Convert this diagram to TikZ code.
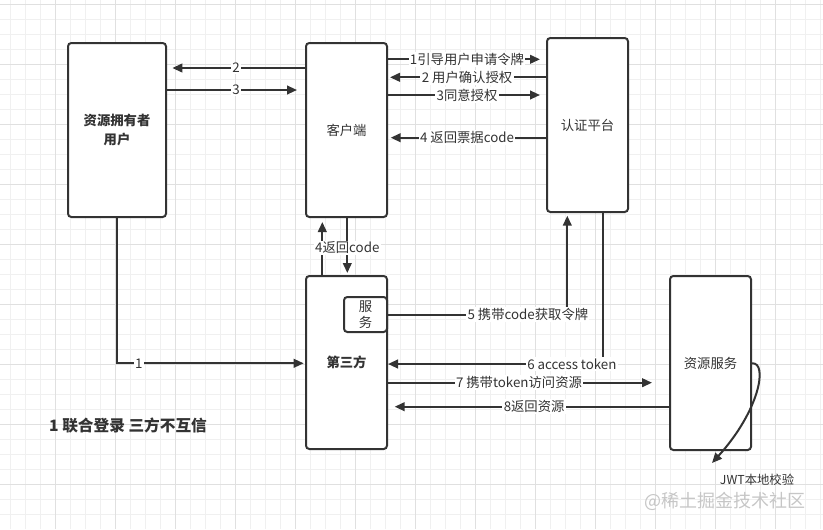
\documentclass[tikz,border=0pt]{standalone}
\usepackage{fontspec}
\setmainfont{Noto Sans CJK SC}
\usetikzlibrary{arrows.meta,positioning}
\definecolor{inkc}{HTML}{333333}
\definecolor{gridminor}{HTML}{F0F0F0}
\definecolor{gridmajor}{HTML}{E0E0E0}

\begin{document}
\begin{tikzpicture}[
    x=0.75pt, y=-0.75pt,
    block/.style={draw=inkc, fill=white, rounded corners=2.5pt, line width=1.5pt, align=center, text=inkc, font=\fontsize{10}{14.5}\selectfont, minimum width=60.75pt, minimum height=130.5pt, inner sep=0pt},
    arrow/.style={-{Triangle[length=7.5pt,width=6.5pt]}, line width=1.5pt, draw=inkc},
    lbl/.style={fill=white, inner sep=1pt, text=inkc, font=\fontsize{10}{11.5}\selectfont},
]
    \useasboundingbox (0,0) rectangle (823,529);
    \foreach \x in {10.7,25.7,...,823} \draw[gridminor, line width=0.75pt] (\x,0) -- (\x,529);
    \foreach \y in {4.3,19.3,...,529} \draw[gridminor, line width=0.75pt] (0,\y) -- (823,\y);
    \foreach \x in {55.7,115.7,...,823} \draw[gridmajor, line width=0.75pt] (\x,0) -- (\x,529);
    \foreach \y in {4.3,64.3,...,529} \draw[gridmajor, line width=0.75pt] (0,\y) -- (823,\y);

    \node[block, minimum width=73.5pt, font=\fontsize{10}{14.5}\selectfont\bfseries] (owner) at (117,130) {资源拥有者\\用户};
    \node[block] (client) at (346.5,130) {客户端};
    \node[block] (auth) at (587.5,125) {认证平台};
    \node[block, minimum height=129.75pt, font=\fontsize{10}{14.5}\selectfont\bfseries] (third) at (346.5,362.5) {第三方};
    \node[block, minimum width=32.25pt, minimum height=26.25pt, font=\fontsize{10}{11.5}\selectfont] (svc) at (365.5,314.5) {服\\务};
    \node[block] (resource) at (710.5,363) {资源服务};

    \draw[arrow, shorten >=4pt] (client.west |- 0,68) -- node[lbl] (t2) {2} (owner.east |- 0,68);
    \draw[arrow, shorten >=6pt] (owner.east |- 0,90) -- node[lbl] (t3) {3} (client.west |- 0,90);
    \draw[arrow, shorten >=4.5pt] (client.east |- 0,59.3) -- node[lbl] (a1) {1引导用户申请令牌} (auth.west |- 0,59.3);
    \draw[arrow, shorten >=1.5pt] (auth.west |- 0,77.3) -- node[lbl] (a2) {2 用户确认授权} (client.east |- 0,77.3);
    \draw[arrow, shorten >=4.5pt] (client.east |- 0,95) -- node[lbl] (a3) {3同意授权} (auth.west |- 0,95);
    \draw[arrow, shorten >=2pt] (auth.west |- 0,137.7) -- node[lbl] (a4) {4 返回票据code} (client.east |- 0,137.7);

    \draw[arrow, shorten >=3pt] (third.north -| 322.3,0) -- (client.south -| 322.3,0);
    \draw[arrow, shorten >=1.5pt] (client.south -| 347.3,0) -- (third.north -| 347.3,0);
    \node[lbl] (c4) at (347.3,248) {4返回code};

    \draw[arrow, shorten >=2pt] (svc.east) -| node[lbl, pos=0.39] (a5) {5 携带code获取令牌} (auth.south -| 567.3,0);
    \draw[arrow] (auth.south -| 603.3,0) |- node[lbl, pos=0.573] (a6) {6 access token} (third.east |- 0,364);
    \draw[arrow, shorten >=12.75pt] (third.east |- 0,382.7) -- node[lbl, pos=0.466] (a7) {7 携带token访问资源} (resource.west |- 0,382.7);
    \draw[arrow, shorten >=5pt] (resource.west |- 0,406.7) -- node[lbl, pos=0.48] (a8) {8返回资源} (third.east |- 0,406.7);
    \draw[arrow, shorten >=1pt] (owner.south) |- node[lbl, pos=0.558] (u1) {1} (third.west |- 0,363.3);

    \coordinate (jwtend) at (712,463);
    \draw[arrow] (resource.east |- 0,363.3) .. controls (768,362) and (760,410) .. (jwtend);
    \node[text=inkc, font=\fontsize{9.25}{11}\selectfont] (jwt) at (757,480) {JWT本地校验};
    \node[text=inkc, font=\fontsize{11.75}{13.5}\selectfont\bfseries] (note) at (128,426) {1 联合登录 三方不互信};
    \node[text=gray!45, font=\fontsize{13.5}{15}\selectfont] (mark) at (725,501) {@稀土掘金技术社区};
\end{tikzpicture}
\end{document}
